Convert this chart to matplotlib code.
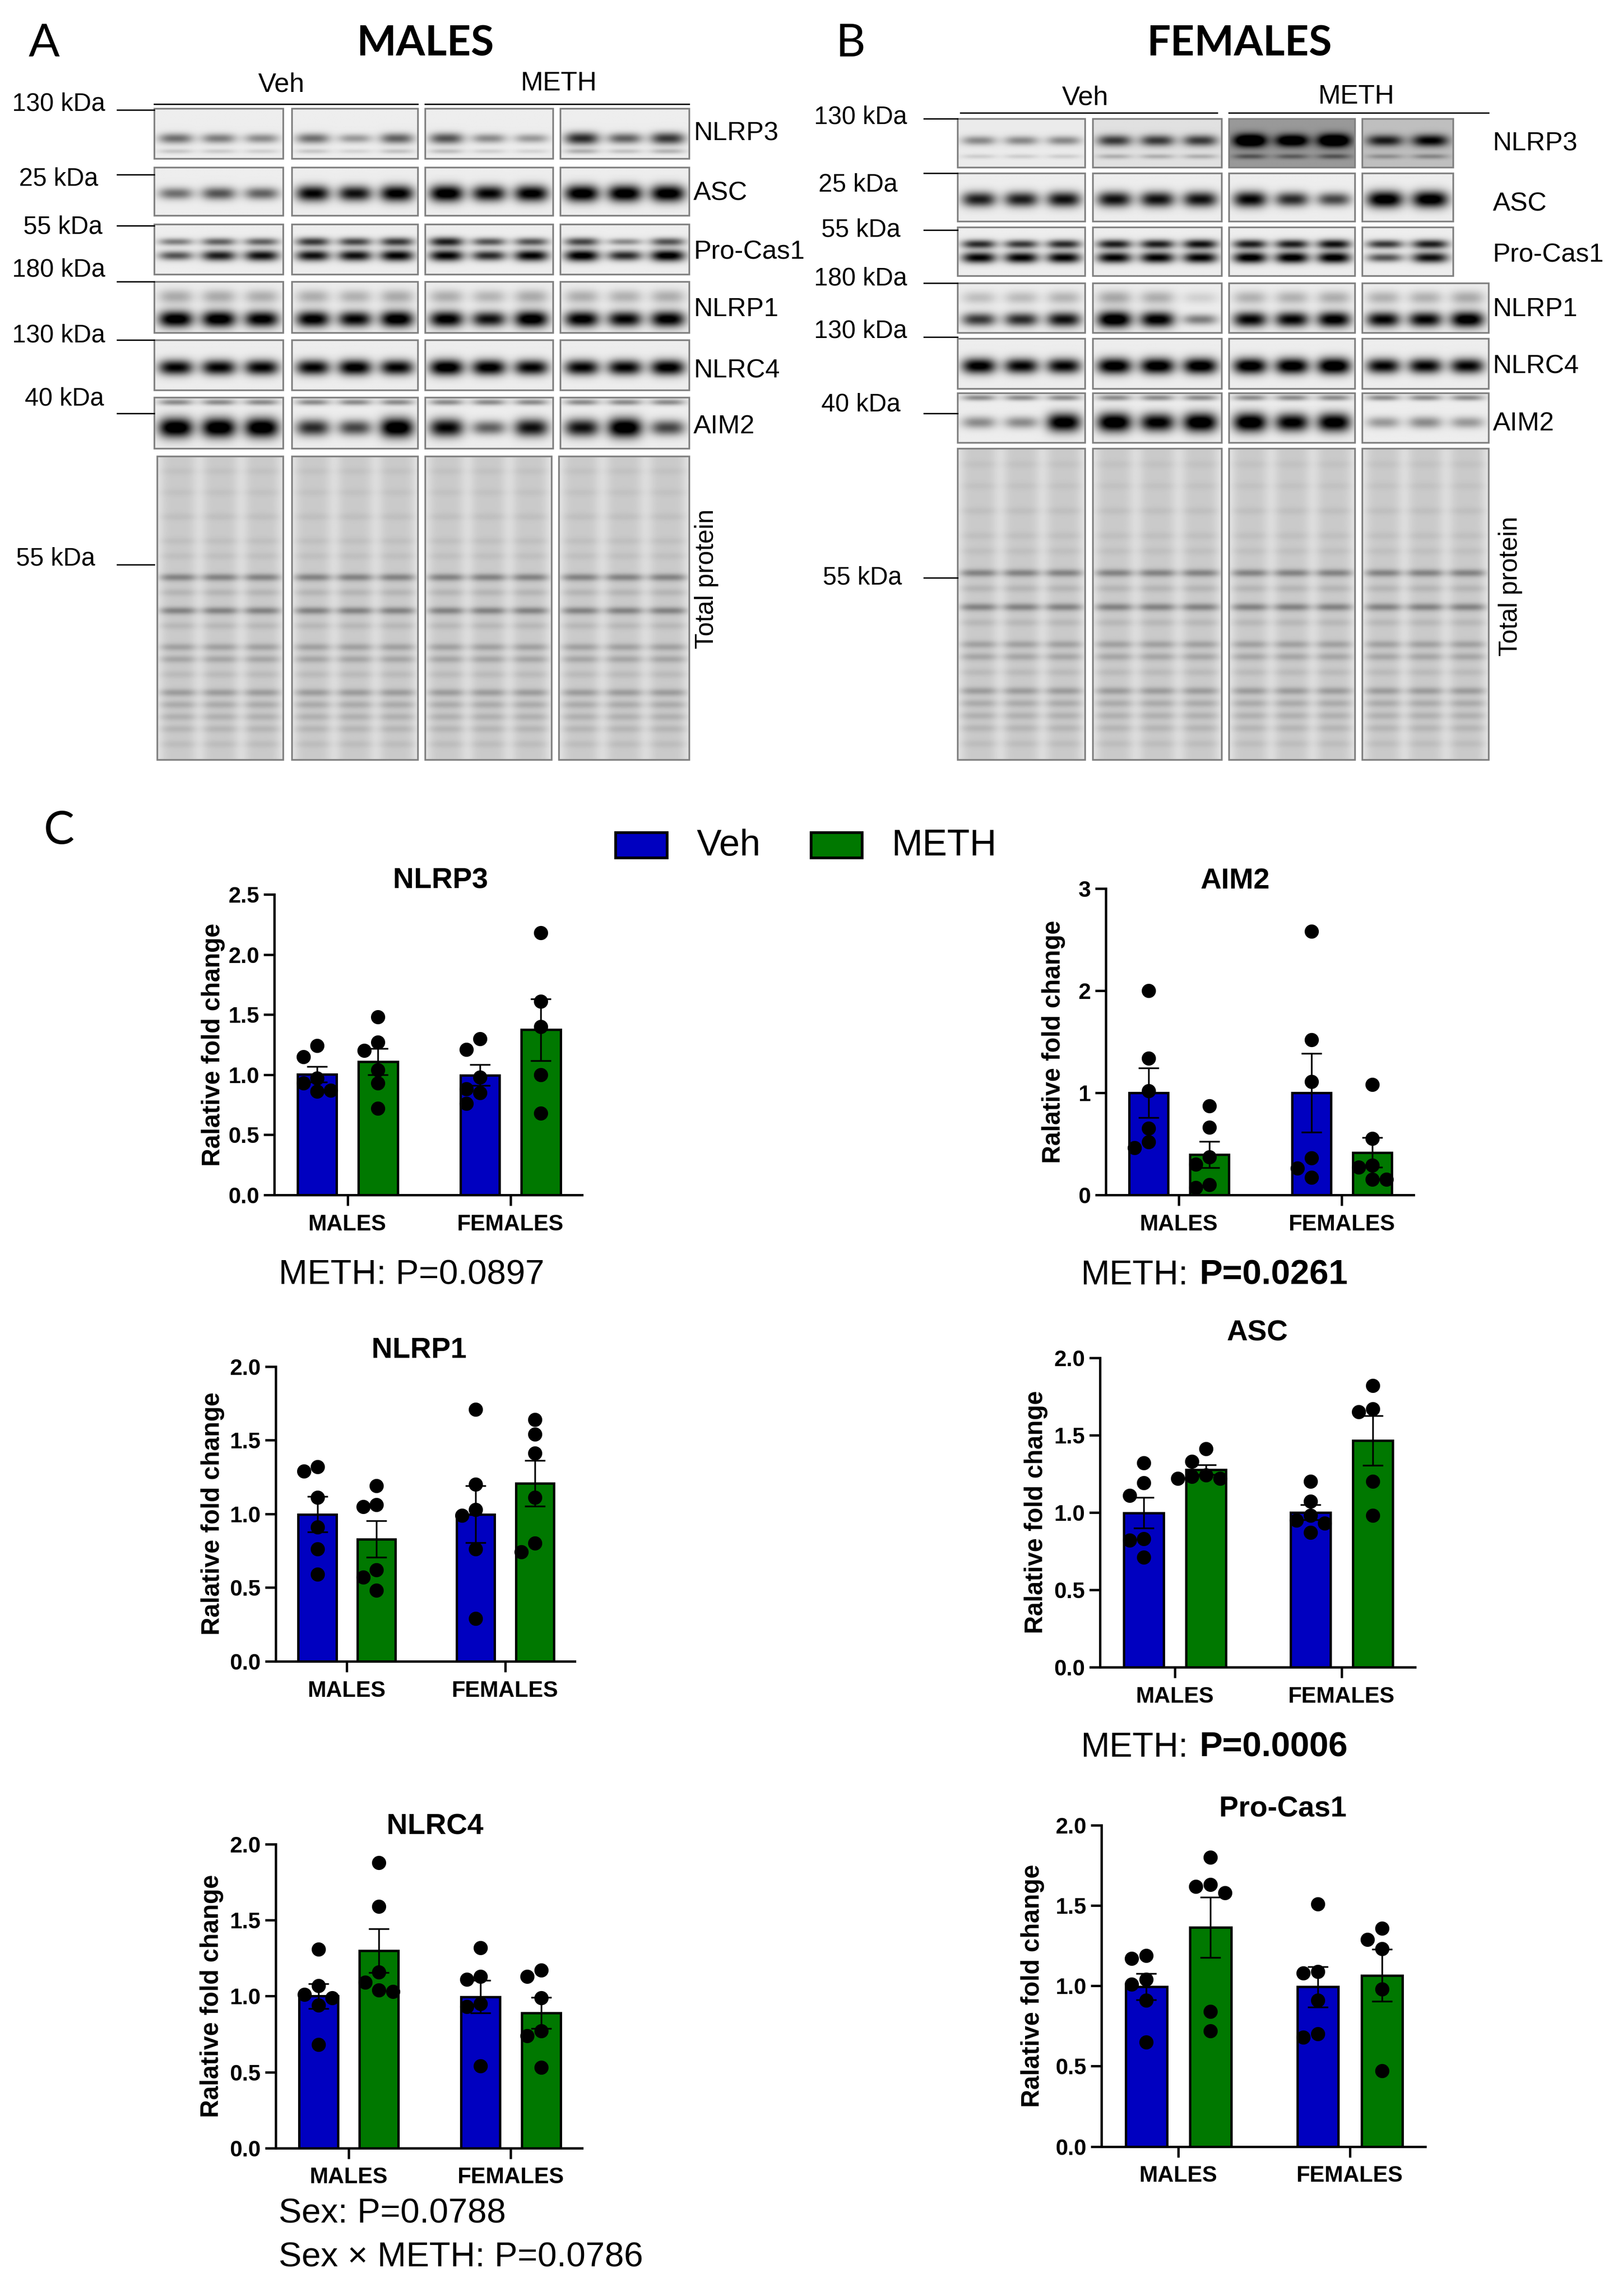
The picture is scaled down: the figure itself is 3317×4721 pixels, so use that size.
import numpy as np
import matplotlib
matplotlib.use('Agg')
import matplotlib.pyplot as plt
from matplotlib.patches import Rectangle
from matplotlib.ticker import FormatStrFormatter

plt.rcParams['font.family'] = ['Liberation Sans', 'DejaVu Sans']

# layout grid: the page is addressed as 1100 x 1566 units (top-left origin)
GW, GH = 1100.0, 1566.0
PX = 3317 / GW  # output pixels per grid unit

groups = ['MALES', 'FEMALES']
treatments = ['Veh', 'METH']
bar_colors = ['#0000C0', '#007800']

# individual animals, order: Veh males, METH males, Veh females, METH females
nlrp3 = [[1.24, 1.15, 0.97, 0.93, 0.87, 0.86],
         [1.48, 1.27, 1.20, 1.04, 0.93, 0.72],
         [1.30, 1.21, 0.98, 0.88, 0.85, 0.76],
         [2.18, 1.61, 1.40, 1.00, 0.68]]
aim2 = [[2.00, 1.34, 1.02, 0.65, 0.52, 0.46],
        [0.87, 0.66, 0.37, 0.30, 0.10, 0.07],
        [2.58, 1.52, 1.11, 0.36, 0.26, 0.17],
        [1.08, 0.55, 0.29, 0.27, 0.15, 0.15]]
nlrp1 = [[1.32, 1.29, 1.11, 0.91, 0.76, 0.59],
         [1.19, 1.06, 1.05, 0.62, 0.57, 0.48],
         [1.71, 1.20, 1.03, 0.99, 0.76, 0.29],
         [1.64, 1.54, 1.41, 1.11, 0.80, 0.74]]
asc = [[1.32, 1.19, 1.11, 0.83, 0.82, 0.71],
       [1.41, 1.33, 1.24, 1.23, 1.22, 1.22],
       [1.20, 1.07, 0.98, 0.95, 0.93, 0.87],
       [1.82, 1.67, 1.65, 1.20, 0.98]]
nlrc4 = [[1.31, 1.07, 1.01, 0.99, 0.94, 0.68],
         [1.88, 1.59, 1.16, 1.09, 1.04, 1.03],
         [1.32, 1.13, 1.11, 0.95, 0.93, 0.54],
         [1.17, 1.13, 0.99, 0.77, 0.74, 0.53]]
procas1 = [[1.19, 1.17, 1.04, 1.01, 0.91, 0.65],
           [1.80, 1.63, 1.62, 1.58, 0.84, 0.72],
           [1.51, 1.09, 1.08, 0.91, 0.70, 0.68],
           [1.36, 1.29, 1.23, 0.98, 0.47]]

# western blot band darkness per lane (0 = none, 1 = saturated), 4 gels per sex
males_blot = {
    'NLRP3': [[0.45, 0.40, 0.35], [0.45, 0.30, 0.50], [0.55, 0.35, 0.30], [0.70, 0.50, 0.65]],
    'ASC': [[0.45, 0.55, 0.50], [0.85, 0.80, 0.90], [0.95, 0.85, 0.90], [0.95, 0.95, 0.95]],
    'Pro-Cas1 up': [[0.40, 0.50, 0.50], [0.65, 0.60, 0.65], [0.75, 0.55, 0.55], [0.60, 0.35, 0.55]],
    'Pro-Cas1': [[0.55, 0.75, 0.80], [0.80, 0.80, 0.85], [0.85, 0.70, 0.85], [0.90, 0.70, 0.90]],
    'NLRP1': [[0.95, 0.95, 0.90], [0.90, 0.85, 0.95], [0.90, 0.80, 0.95], [0.90, 0.85, 0.90]],
    'NLRC4': [[0.85, 0.85, 0.85], [0.85, 0.90, 0.85], [0.95, 0.90, 0.85], [0.85, 0.85, 0.90]],
    'AIM2': [[1.00, 1.00, 1.00], [0.70, 0.60, 1.00], [0.85, 0.50, 0.80], [0.80, 1.00, 0.60]],
}
females_blot = {
    'NLRP3': [[0.35, 0.35, 0.35], [0.60, 0.60, 0.60], [0.85, 0.75, 0.85], [0.60, 0.70]],
    'ASC': [[0.75, 0.75, 0.80], [0.80, 0.80, 0.80], [0.85, 0.70, 0.60], [0.95, 0.95]],
    'Pro-Cas1 up': [[0.70, 0.65, 0.70], [0.75, 0.75, 0.80], [0.75, 0.75, 0.80], [0.65, 0.75]],
    'Pro-Cas1': [[0.85, 0.85, 0.85], [0.85, 0.85, 0.85], [0.90, 0.90, 0.90], [0.55, 0.80]],
    'NLRP1': [[0.65, 0.70, 0.80], [1.00, 0.90, 0.40], [0.85, 0.85, 0.90], [0.85, 0.85, 0.95]],
    'NLRC4': [[0.90, 0.85, 0.85], [0.95, 0.95, 0.95], [0.95, 0.95, 1.00], [0.85, 0.85, 0.85]],
    'AIM2': [[0.35, 0.35, 0.95], [1.00, 0.90, 1.00], [1.00, 0.90, 0.95], [0.30, 0.35, 0.30]],
}
females_nlrp3_bg = [0.08, 0.12, 0.40, 0.25]
total_band_pos = [0.05, 0.12, 0.20, 0.28, 0.33, 0.40, 0.45, 0.51, 0.56, 0.63, 0.67,
                  0.72, 0.78, 0.82, 0.86, 0.90, 0.95]
total_band_str = [0.03, 0.03, 0.04, 0.04, 0.04, 0.28, 0.08, 0.28, 0.07, 0.16, 0.14,
                  0.06, 0.18, 0.12, 0.10, 0.08, 0.05]

kda_a = [('130 kDa', 40, 71, 75), ('25 kDa', 40, 122, 119), ('55 kDa', 43, 155, 154),
         ('180 kDa', 40, 184, 192), ('130 kDa', 40, 229, 232), ('40 kDa', 44, 272, 282),
         ('55 kDa', 38, 381, 385)]
kda_b = [('130 kDa', 587, 80, 81), ('25 kDa', 585, 126, 118), ('55 kDa', 587, 157, 157),
         ('180 kDa', 587, 190, 193), ('130 kDa', 587, 226, 230), ('40 kDa', 587, 276, 282),
         ('55 kDa', 588, 394, 394)]


def draw_blot(ax, x0, x1, y0, y1, bands, bg=0.07):
    ys = np.linspace(0, 1, 90)[:, None]
    xs = np.linspace(0, 1, 180)[None, :]
    dark = np.full((90, 180), bg)
    for ry, rh, vals in bands:
        n = len(vals)
        for k, v in enumerate(vals):
            xc = (k + 0.5) / n
            prof = np.exp(-np.abs((xs - xc) / (0.40 / n)) ** 3)
            prof = prof * np.exp(-((ys - ry) / (rh * (0.6 + 0.8 * v))) ** 2)
            dark = dark + 1.1 * v * prof
    ax.imshow(np.clip(dark, 0, 1), cmap='gray_r', vmin=0, vmax=1, extent=(x0, x1, y1, y0),
              aspect='auto', interpolation='bilinear', zorder=1)
    ax.add_patch(Rectangle((x0, y0), x1 - x0, y1 - y0, fill=False, ec='#808080', lw=2.5, zorder=2))


def draw_total(ax, x0, x1, y0, y1, n=3):
    ys = np.linspace(0, 1, 400)[:, None]
    xs = np.linspace(0, 1, 180)[None, :]
    lane = np.zeros((1, 180))
    for k in range(n):
        lane = lane + np.exp(-np.abs((xs - (k + 0.5) / n) / 0.15) ** 4)
    prof = np.full((400, 1), 0.13)
    for p, s in zip(total_band_pos, total_band_str):
        prof = prof + s * np.exp(-((ys - p) / 0.012) ** 2)
    dark = 0.08 + lane * prof
    ax.imshow(np.clip(dark, 0, 1), cmap='gray_r', vmin=0, vmax=1, extent=(x0, x1, y1, y0),
              aspect='auto', interpolation='bilinear', zorder=1)
    ax.add_patch(Rectangle((x0, y0), x1 - x0, y1 - y0, fill=False, ec='#808080', lw=2.5, zorder=2))


def row_bands(name, data, i, flip=False):
    v = data[name][i]
    if name == 'NLRP3':
        return [(0.45 if flip else 0.6, 0.11, v), (0.78 if flip else 0.86, 0.07, [0.3 * a for a in v])]
    if name == 'ASC':
        return [(0.55, 0.13, v)]
    if name == 'Pro-Cas1':
        return [(0.35, 0.08, data['Pro-Cas1 up'][i]), (0.63, 0.09, v)]
    if name == 'NLRP1':
        return [(0.3, 0.18, [0.25 * a for a in v]), (0.74, 0.12, v)]
    if name == 'NLRC4':
        return [(0.55, 0.12, v)]
    return [(0.1, 0.07, [0.35 for a in v]), (0.6, 0.14, v)]


def swarm(vals, dx, dy):
    placed = []
    for v in vals:
        for k in [0, -1, 1, -2, 2, -3, 3]:
            o = k * dx
            if all(((o - po) / dx) ** 2 + ((v - pv) / dy) ** 2 >= 0.85 for po, pv in placed):
                break
        placed.append((o, v))
    return [p[0] for p in placed]


def bar_panel(fig, box, title, data, ymax, ystep, fmt, title_pos, ylab_x):
    l, t, r, b = box
    ax = fig.add_axes([l / GW, 1 - b / GH, (r - l) / GW, (b - t) / GH])
    ax_h_px = (b - t) * PX
    dot_dy = 28.0 / ax_h_px * ymax
    for gi in range(2):
        for ti in range(2):
            vals = np.array(data[gi * 2 + ti])
            x = gi + (ti - 0.5) * 0.374
            mean = vals.mean()
            sem = vals.std(ddof=1) / np.sqrt(len(vals))
            ax.bar(x, mean, width=0.24, color=bar_colors[ti], edgecolor='black', linewidth=3.5, zorder=2)
            ax.errorbar(x, mean, yerr=sem, fmt='none', ecolor='black', elinewidth=2.5,
                        capsize=15, capthick=2.5, zorder=3)
            vs = sorted(vals, reverse=True)
            offs = swarm(vs, 0.085, dot_dy)
            ax.plot(x + np.array(offs), vs, 'o', color='black',
                    markersize=20, zorder=4, clip_on=False)
    ax.set_xlim(-0.45, 1.44)
    ax.set_ylim(0, ymax)
    ax.set_yticks(np.arange(0, ymax + ystep / 2, ystep))
    ax.yaxis.set_major_formatter(FormatStrFormatter(fmt))
    ax.set_xticks([0, 1])
    ax.set_xticklabels(groups)
    for s in ['top', 'right']:
        ax.spines[s].set_visible(False)
    for s in ['left', 'bottom']:
        ax.spines[s].set_linewidth(3.5)
    ax.tick_params(axis='both', width=3.5, length=16, labelsize=33, pad=6)
    ax.tick_params(axis='x', pad=12)
    for lab in ax.get_xticklabels() + ax.get_yticklabels():
        lab.set_fontweight('bold')
    ax.set_ylabel('Ralative fold change', fontsize=37, fontweight='bold')
    ax.yaxis.set_label_coords(ylab_x, 0.5)
    ax.text(title_pos[0], title_pos[1], title, transform=ax.transAxes, ha='center',
            va='center', fontsize=43, fontweight='bold')
    return ax


fig = plt.figure(figsize=(33.17, 47.21), dpi=100)
bg = fig.add_axes([0, 0, 1, 1])
bg.set_xlim(0, GW)
bg.set_ylim(GH, 0)
bg.axis('off')

# ---- panel A and B: blots
rows_a = [('NLRP3', 74, 108), ('ASC', 114, 147), ('Pro-Cas1', 153, 187), ('NLRP1', 192, 227),
          ('NLRC4', 232, 266), ('AIM2', 271, 306)]
rows_b = [('NLRP3', 81, 114), ('ASC', 118, 151), ('Pro-Cas1', 155, 188), ('NLRP1', 193, 227),
          ('NLRC4', 231, 265), ('AIM2', 268, 302)]
gels_a = [(105, 193), (199, 285), (290, 377), (382, 470)]
gels_b = [(653, 740), (745, 833), (838, 924), (929, 1015)]
label_y_a = [91, 132, 172, 211, 253, 291]
label_y_b = [98, 139, 174, 211, 250, 289]

for (name, y0, y1), ly in zip(rows_a, label_y_a):
    for i, (x0, x1) in enumerate(gels_a):
        draw_blot(bg, x0, x1, y0, y1, row_bands(name, males_blot, i))
    bg.text(473, ly, name, fontsize=39, va='center', ha='left')
for (name, y0, y1), ly in zip(rows_b, label_y_b):
    for i, (x0, x1) in enumerate(gels_b):
        if len(females_blot[name][i]) == 2:
            x1 = 991
        bgv = females_nlrp3_bg[i] if name == 'NLRP3' else 0.07
        draw_blot(bg, x0, x1, y0, y1, row_bands(name, females_blot, i, flip=True), bg=bgv)
    bg.text(1018, ly, name, fontsize=39, va='center', ha='left')

for x0, x1 in [(107, 193), (199, 285), (290, 376), (381, 470)]:
    draw_total(bg, x0, x1, 311, 518)
for x0, x1 in gels_b:
    draw_total(bg, x0, x1, 306, 518)
bg.text(482, 395, 'Total protein', fontsize=38, rotation=90, ha='center', va='center')
bg.text(1030, 400, 'Total protein', fontsize=38, rotation=90, ha='center', va='center')

for lab, tx, ty, ly in kda_a:
    bg.text(tx, ty, lab, fontsize=37, ha='center', va='center')
    bg.plot([80, 105], [ly, ly], color='black', lw=2)
for lab, tx, ty, ly in kda_b:
    bg.text(tx, ty, lab, fontsize=37, ha='center', va='center')
    bg.plot([630, 653], [ly, ly], color='black', lw=2)

bg.text(192, 58, 'Veh', fontsize=40, ha='center', va='center')
bg.text(381, 57, 'METH', fontsize=40, ha='center', va='center')
bg.plot([105, 285], [71, 71], color='black', lw=2)
bg.plot([290, 470], [71, 71], color='black', lw=2)
bg.text(740, 67, 'Veh', fontsize=40, ha='center', va='center')
bg.text(925, 66, 'METH', fontsize=40, ha='center', va='center')
bg.plot([655, 830], [77, 77], color='black', lw=2)
bg.plot([838, 1015], [77, 77], color='black', lw=2)

for lab, x, y in [('A', 30, 30), ('B', 580, 30), ('C', 40, 567)]:
    bg.text(x, y, lab, fontsize=68, family='Lato', ha='center', va='center')
bg.text(290, 30, 'MALES', fontsize=62, family='Lato', fontweight='bold', ha='center', va='center')
bg.text(845, 30, 'FEMALES', fontsize=62, family='Lato', fontweight='bold', ha='center', va='center')

# ---- legend
for (x0, lab), c in zip([(420, 'Veh'), (553, 'METH')], bar_colors):
    bg.add_patch(Rectangle((x0, 568), 35, 17, facecolor=c, edgecolor='black', lw=4, zorder=3))
    bg.text(x0 + 55, 577, lab, fontsize=55, ha='left', va='center')

# ---- panel C: bar charts
bar_panel(fig, (187, 610, 397, 815), 'NLRP3', nlrp3, 2.5, 0.5, '%.1f', (0.54, 1.045), -0.16)
bar_panel(fig, (754, 606, 964, 815), 'AIM2', aim2, 3, 1, '%d', (0.42, 1.025), -0.13)
bar_panel(fig, (188, 932, 392, 1133), 'NLRP1', nlrp1, 2.0, 0.5, '%.1f', (0.48, 1.055), -0.17)
bar_panel(fig, (750, 926, 965, 1137), 'ASC', asc, 2.0, 0.5, '%.1f', (0.5, 1.08), -0.165)
bar_panel(fig, (188, 1258, 397, 1465), 'NLRC4', nlrc4, 2.0, 0.5, '%.1f', (0.52, 1.058), -0.17)
bar_panel(fig, (751, 1245, 972, 1464), 'Pro-Cas1', procas1, 2.0, 0.5, '%.1f', (0.56, 1.05), -0.175)

# ---- statistics
bg.text(190, 870, 'METH: P=0.0897', fontsize=51, ha='left', va='center')
bg.text(737, 870, 'METH:', fontsize=51, ha='left', va='center')
bg.text(818, 870, 'P=0.0261', fontsize=51, fontweight='bold', ha='left', va='center')
bg.text(737, 1192, 'METH:', fontsize=51, ha='left', va='center')
bg.text(818, 1192, 'P=0.0006', fontsize=51, fontweight='bold', ha='left', va='center')
bg.text(190, 1510, 'Sex: P=0.0788', fontsize=51, ha='left', va='center')
bg.text(190, 1540, 'Sex \u00d7 METH: P=0.0786', fontsize=51, ha='left', va='center')

fig.savefig('out.png', dpi=100)
